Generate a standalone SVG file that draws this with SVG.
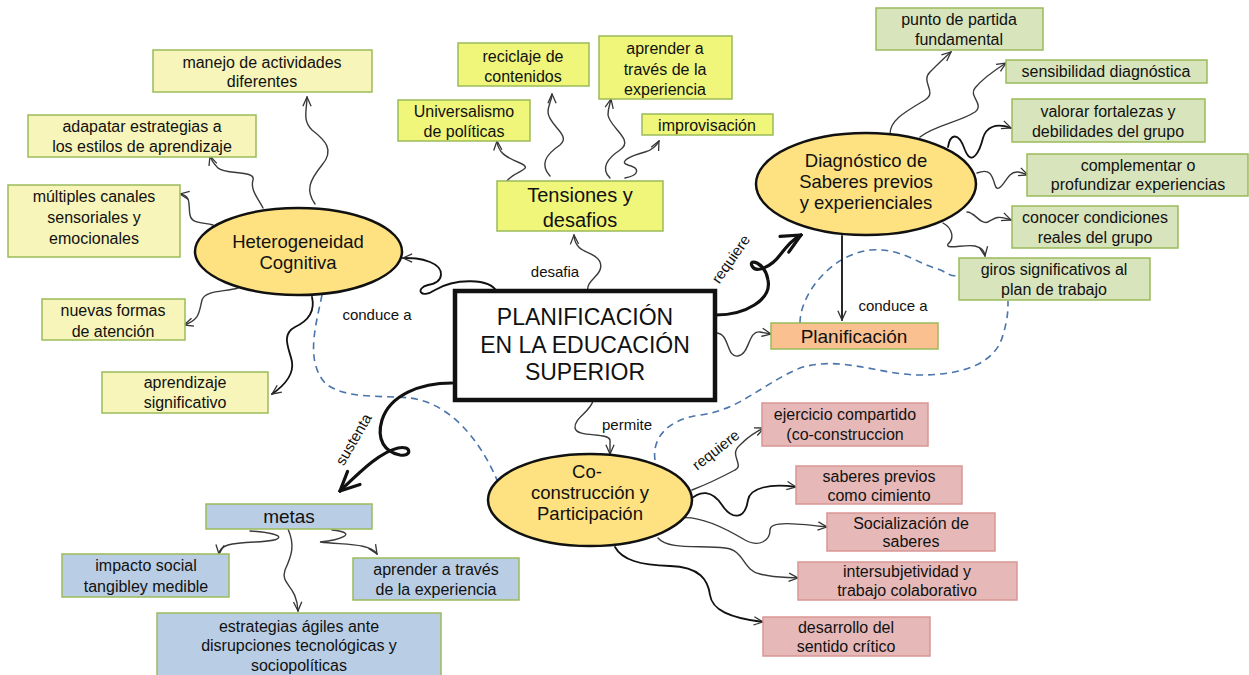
<svg xmlns="http://www.w3.org/2000/svg" width="1249" height="675" viewBox="0 0 1249 675">
<defs>
<style>
.bY{fill:#f7f5b9;stroke:#9bbb59;stroke-width:1.5}
.bT{fill:#eff67a;stroke:#9bbb59;stroke-width:1.5}
.bG{fill:#d8e4bc;stroke:#9bbb59;stroke-width:1.5}
.bO{fill:#fac090;stroke:#9bbb59;stroke-width:1.5}
.bP{fill:#e6b9b8;stroke:#d99694;stroke-width:1.5}
.bB{fill:#b9cde4;stroke:#9bbb59;stroke-width:1.5}
.el{fill:#fee281;stroke:#111;stroke-width:2.5}
.t{font-family:"Liberation Sans",Arial,sans-serif;font-size:16px;fill:#111;text-anchor:middle}
.tl{font-size:20px}
.te{font-size:18.5px}
.tc{font-size:23px}
.lb{font-size:15px}
.c{fill:none;stroke:#3a3a3a;stroke-width:1.4;stroke-linecap:round}
.ck{fill:none;stroke:#111;stroke-width:1.8;stroke-linecap:round}
.cb{fill:none;stroke:#111;stroke-width:3.2;stroke-linecap:round}
.d{fill:none;stroke:#4a74aa;stroke-width:1.6;stroke-dasharray:7 5}
</style>
<marker id="a" viewBox="0 0 12 12" refX="11" refY="6" markerWidth="11" markerHeight="11" markerUnits="userSpaceOnUse" orient="auto">
<path d="M1,1.5 L11,6 L1,10.5" fill="none" stroke="#333" stroke-width="1.4"/>
</marker>
<marker id="ab" viewBox="0 0 24 24" refX="22" refY="12" markerWidth="24" markerHeight="24" markerUnits="userSpaceOnUse" orient="auto">
<path d="M3,3 L22,12 L3,21" fill="none" stroke="#111" stroke-width="3.2" stroke-linecap="round"/>
</marker>
</defs>
<rect width="1249" height="675" fill="#fff"/>

<g id="connectors">
<path class="d" d="M322 295 C316 325 305 360 325 383 C345 400 385 395 410 398 C450 403 480 440 497 480"/>
<path class="d" d="M655 460 C652 440 665 420 700 415 C740 410 760 385 800 368 C840 355 880 375 920 375 C960 375 995 365 1003 335 C1008 318 1008 310 1008 301"/>
<path class="d" d="M800 323 C800 295 830 255 870 250 C900 248 915 262 935 268 C948 272 950 278 959 275"/>
<path class="ck" marker-end="url(#a)" d="M497 292 C490 278 455 278 435 290 C420 300 415 288 428 285 C445 282 445 268 430 262 C420 258 412 258 403 258"/>
<path class="c" marker-end="url(#a)" d="M588 291 C585 280 605 275 600 262 C595 250 575 255 574 235"/>
<path class="cb" marker-end="url(#ab)" d="M716 315 C745 315 772 300 768 280 C765 262 748 258 752 266 C756 274 772 266 780 255 C788 245 792 240 801 235"/>
<path class="c" marker-end="url(#a)" d="M716 333 C730 333 726 358 738 356 C750 354 748 330 760 332 L771 334"/>
<path class="ck" marker-end="url(#a)" d="M842 236 L842 320"/>
<path class="c" marker-end="url(#a)" d="M593 401 C590 412 574 418 575 428 C577 438 608 432 610 440 L610 454"/>
<path class="cb" marker-end="url(#ab)" d="M452 383 C420 383 390 395 382 420 C376 440 385 452 400 455 C412 457 412 445 398 448 C380 452 360 472 340 491"/>
<path class="c" marker-end="url(#a)" d="M315 204 C305 190 310 180 322 165 C335 150 325 140 312 130 C302 120 307 110 307 97"/>
<path class="c" marker-end="url(#a)" d="M263 208 C258 198 250 190 253 180 C256 170 225 175 218 168 C214 164 212 162 210 156"/>
<path class="c" marker-end="url(#a)" d="M213 225 C205 222 192 225 190 215 C188 205 192 196 180 194"/>
<path class="c" marker-end="url(#a)" d="M238 288 C225 292 205 290 202 300 C199 312 200 320 184 325"/>
<path class="ck" marker-end="url(#a)" d="M312 297 C315 310 310 320 295 327 C280 335 290 350 292 362 C294 375 285 385 272 394"/>
<path class="c" marker-end="url(#a)" d="M507 181 C515 170 535 170 520 163 C505 157 498 152 497 141"/>
<path class="c" marker-end="url(#a)" d="M550 176 C540 165 545 155 560 145 C572 135 548 125 548 112 C548 105 552 100 552 94"/>
<path class="c" marker-end="url(#a)" d="M610 178 C600 168 608 158 620 150 C635 140 610 128 608 115 C608 108 610 104 611 99"/>
<path class="c" marker-end="url(#a)" d="M625 178 C640 175 640 168 628 165 C618 162 630 156 645 152 C652 150 656 147 659 141"/>
<path class="c" marker-end="url(#a)" d="M890 134 C890 120 905 112 925 100 C938 92 920 82 930 72 C938 64 944 58 951 52"/>
<path class="c" marker-end="url(#a)" d="M920 137 C935 125 960 122 975 112 C985 104 968 96 975 88 C983 78 995 70 1006 63"/>
<path class="ck" marker-end="url(#a)" d="M948 147 C950 135 958 130 965 150 C972 168 980 150 983 138 C986 128 995 122 1011 128"/>
<path class="c" marker-end="url(#a)" d="M977 173 C990 168 992 175 995 185 C998 195 1005 180 1010 175 C1015 170 1020 172 1028 175"/>
<path class="c" marker-end="url(#a)" d="M967 212 C975 212 980 225 988 222 C995 218 998 215 1011 220"/>
<path class="c" marker-end="url(#a)" d="M943 223 C952 228 955 238 948 244 C945 250 965 244 975 246 C982 248 984 250 985 256"/>
<path class="c" marker-end="url(#a)" d="M692 490 C705 485 720 478 735 470 C745 465 728 455 740 445 C748 437 755 432 764 428"/>
<path class="ck" marker-end="url(#a)" d="M690 500 C700 490 712 490 722 505 C732 520 745 520 748 500 C750 488 770 483 796 487"/>
<path class="c" marker-end="url(#a)" d="M680 518 C700 515 725 528 745 540 C760 548 770 540 770 530 C770 520 800 524 827 527"/>
<path class="c" marker-end="url(#a)" d="M658 538 C668 550 700 545 725 548 C745 550 742 570 760 574 C775 578 785 577 798 578"/>
<path class="ck" marker-end="url(#a)" d="M615 547 C622 560 640 565 670 566 C700 567 708 580 710 595 C712 610 730 618 763 622"/>
<path class="c" marker-end="url(#a)" d="M250 531 C290 534 285 541 255 542 C230 543 220 545 219 554"/>
<path class="c" marker-end="url(#a)" d="M288 529 C295 545 292 555 285 570 C280 585 297 585 298 611"/>
<path class="c" marker-end="url(#a)" d="M332 530 C360 533 340 540 320 542 C345 545 370 543 377 554"/>
<text class="t lb" x="377" y="320">conduce a</text>
<text class="t lb" x="555" y="277">desafia</text>
<text class="t lb" transform="translate(735 262) rotate(-55)">requiere</text>
<text class="t lb" x="893" y="311">conduce a</text>
<text class="t lb" x="627" y="430">permite</text>
<text class="t lb" transform="translate(719 454) rotate(-38)">requiere</text>
<text class="t lb" transform="translate(358 442) rotate(-60)">sustenta</text>
</g>

<g id="central">
<rect x="455" y="291" width="260" height="109" fill="#fff" stroke="#111" stroke-width="4.5"/>
<text class="t tc" x="585" y="325">PLANIFICACIÓN</text>
<text class="t tc" x="585" y="353">EN LA EDUCACIÓN</text>
<text class="t tc" x="585" y="380">SUPERIOR</text>
</g>

<g id="heterogeneidad">
<ellipse class="el" cx="298.5" cy="251.5" rx="103.5" ry="43.5"/>
<text class="t te" x="298" y="248">Heterogeneidad</text>
<text class="t te" x="298" y="269">Cognitiva</text>
</g>
<g id="manejo"><rect class="bY" x="153" y="50" width="219" height="42"/><text class="t" x="262" y="68">manejo de actividades</text><text class="t" x="262" y="87">diferentes</text></g>
<g id="adapatar"><rect class="bY" x="28" y="115" width="228" height="42"/><text class="t" x="142" y="132">adapatar estrategias a</text><text class="t" x="142" y="152">los estilos de aprendizaje</text></g>
<g id="multiples"><rect class="bY" x="8" y="185" width="172" height="72"/><text class="t" x="94" y="202">múltiples canales</text><text class="t" x="94" y="223">sensoriales y</text><text class="t" x="94" y="244">emocionales</text></g>
<g id="nuevas"><rect class="bY" x="42" y="299" width="143" height="41"/><text class="t" x="113" y="316">nuevas formas</text><text class="t" x="113" y="337">de atención</text></g>
<g id="aprendizaje"><rect class="bY" x="102" y="372" width="166" height="41"/><text class="t" x="185" y="388">aprendizaje</text><text class="t" x="185" y="408">significativo</text></g>

<g id="tensiones"><rect class="bT" x="497" y="181" width="166" height="50"/><text class="t tl" x="580" y="202">Tensiones y</text><text class="t tl" x="580" y="227">desafios</text></g>
<g id="reciclaje"><rect class="bT" x="458" y="43" width="131" height="43"/><text class="t" x="523" y="62">reciclaje de</text><text class="t" x="523" y="82">contenidos</text></g>
<g id="aprender1"><rect class="bT" x="599" y="36" width="133" height="63"/><text class="t" x="665" y="54">aprender a</text><text class="t" x="665" y="75">través de la</text><text class="t" x="665" y="95">experiencia</text></g>
<g id="universalismo"><rect class="bT" x="398" y="100" width="132" height="41"/><text class="t" x="464" y="117">Universalismo</text><text class="t" x="464" y="137">de políticas</text></g>
<g id="improvisacion"><rect class="bT" x="642" y="114" width="131" height="21"/><text class="t" x="707" y="131">improvisación</text></g>

<g id="diagnostico">
<ellipse class="el" cx="866" cy="184" rx="110" ry="51"/>
<text class="t te" x="866" y="167">Diagnóstico de</text>
<text class="t te" x="866" y="188">Saberes previos</text>
<text class="t te" x="866" y="209">y experienciales</text>
</g>
<g id="punto"><rect class="bG" x="876" y="8" width="167" height="42"/><text class="t" x="959" y="25">punto de partida</text><text class="t" x="959" y="45">fundamental</text></g>
<g id="sensibilidad"><rect class="bG" x="1006" y="60" width="201" height="23"/><text class="t" x="1106" y="77">sensibilidad diagnóstica</text></g>
<g id="valorar"><rect class="bG" x="1012" y="99" width="193" height="43"/><text class="t" x="1108" y="117">valorar fortalezas y</text><text class="t" x="1108" y="137">debilidades del grupo</text></g>
<g id="complementar"><rect class="bG" x="1027" y="154" width="221" height="42"/><text class="t" x="1138" y="171">complementar o</text><text class="t" x="1138" y="190">profundizar experiencias</text></g>
<g id="conocer"><rect class="bG" x="1012" y="206" width="166" height="42"/><text class="t" x="1095" y="223">conocer condiciones</text><text class="t" x="1095" y="243">reales del grupo</text></g>
<g id="giros"><rect class="bG" x="959" y="258" width="191" height="42"/><text class="t" x="1054" y="275">giros significativos al</text><text class="t" x="1054" y="295">plan de trabajo</text></g>

<g id="planificacion"><rect class="bO" x="771" y="323" width="167" height="26"/><text class="t" style="font-size:19px" x="854" y="343">Planificación</text></g>

<g id="coconstruccion">
<ellipse class="el" cx="590" cy="500" rx="102" ry="46"/>
<text class="t te" x="587" y="478">Co-</text>
<text class="t te" x="590" y="499">construcción y</text>
<text class="t te" x="590" y="520">Participación</text>
</g>
<g id="ejercicio"><rect class="bP" x="762" y="403" width="166" height="43"/><text class="t" x="845" y="420">ejercicio compartido</text><text class="t" x="845" y="440">(co-construccion</text></g>
<g id="saberes"><rect class="bP" x="796" y="466" width="166" height="38"/><text class="t" x="879" y="482">saberes previos</text><text class="t" x="879" y="501">como cimiento</text></g>
<g id="socializacion"><rect class="bP" x="827" y="513" width="168" height="38"/><text class="t" x="911" y="529">Socialización de</text><text class="t" x="911" y="547">saberes</text></g>
<g id="intersubjetividad"><rect class="bP" x="798" y="562" width="219" height="38"/><text class="t" x="907" y="577">intersubjetividad y</text><text class="t" x="907" y="596">trabajo colaborativo</text></g>
<g id="desarrollo"><rect class="bP" x="763" y="617" width="167" height="39"/><text class="t" x="846" y="633">desarrollo del</text><text class="t" x="846" y="652">sentido crítico</text></g>

<g id="metas"><rect class="bB" x="206" y="504" width="166" height="25"/><text class="t" style="font-size:19px" x="289" y="523">metas</text></g>
<g id="impacto"><rect class="bB" x="62" y="554" width="167" height="43"/><text class="t" x="146" y="571">impacto social</text><text class="t" x="146" y="592">tangibley medible</text></g>
<g id="aprender2"><rect class="bB" x="353" y="558" width="166" height="42"/><text class="t" x="436" y="575">aprender a través</text><text class="t" x="436" y="595">de la experiencia</text></g>
<g id="estrategias"><rect class="bB" x="157" y="613" width="284" height="70"/><text class="t" x="299" y="632">estrategias ágiles ante</text><text class="t" x="299" y="651">disrupciones tecnológicas y</text><text class="t" x="299" y="671">sociopolíticas</text></g>
</svg>
